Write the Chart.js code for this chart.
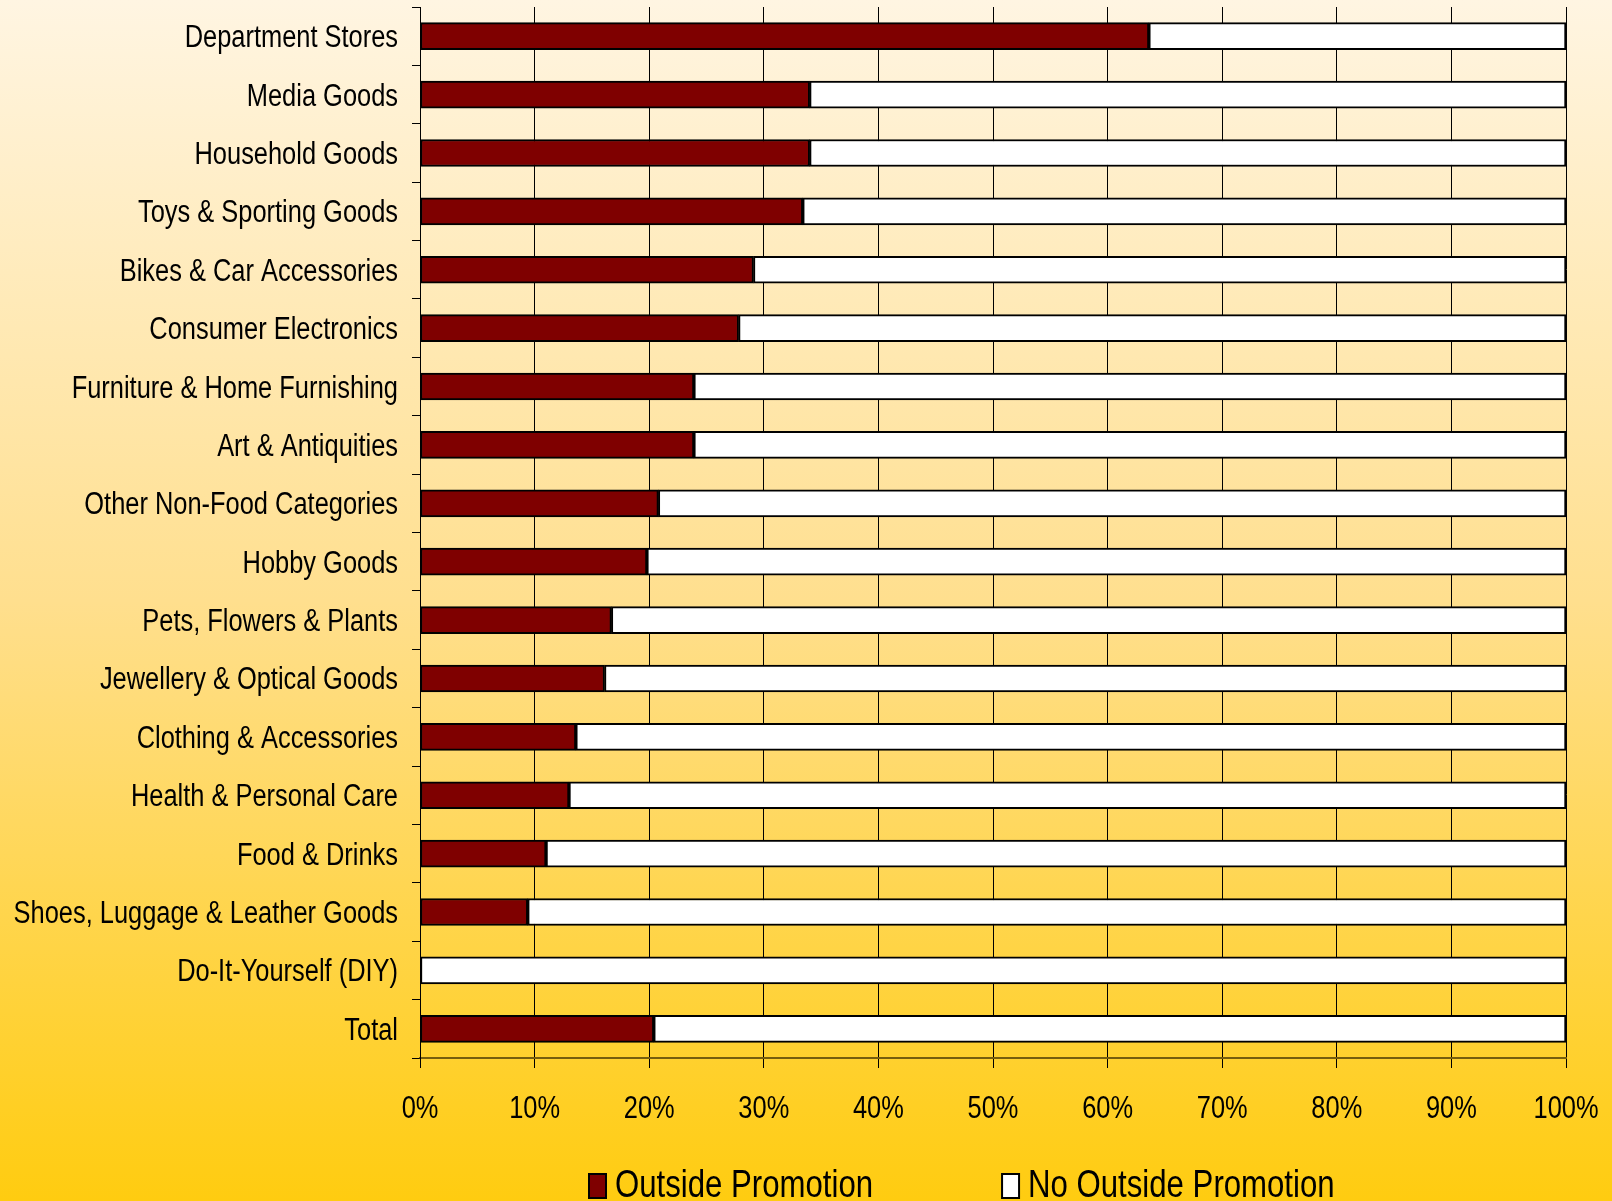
<!DOCTYPE html>
<html>
<head>
<meta charset="utf-8">
<script src="https://cdn.jsdelivr.net/npm/chart.js@4"></script>
<style>
	html, body { margin: 0; padding: 0; }
	body {
		width: 1612px;
		height: 1201px;
		overflow: hidden;
		background: linear-gradient(to bottom, #FFF5E2 0%, #FFDF8E 50%, #FFCC10 100%);
	}
	#wrap { width: 1612px; height: 1201px; }
</style>
</head>
<body>
<div id="wrap"><canvas id="chart"></canvas></div>
<script>
// categories (top to bottom)
const categories = [
	'Department Stores',
	'Media Goods',
	'Household Goods',
	'Toys & Sporting Goods',
	'Bikes & Car Accessories',
	'Consumer Electronics',
	'Furniture & Home Furnishing',
	'Art & Antiquities',
	'Other Non-Food Categories',
	'Hobby Goods',
	'Pets, Flowers & Plants',
	'Jewellery & Optical Goods',
	'Clothing & Accessories',
	'Health & Personal Care',
	'Food & Drinks',
	'Shoes, Luggage & Leather Goods',
	'Do-It-Yourself (DIY)',
	'Total'
]

// share of retailers (%)
const outside_promotion = [63.6, 34.0, 34.0, 33.4, 29.1, 27.8, 23.9, 23.9, 20.8, 19.8, 16.7, 16.1, 13.6, 13.0, 11.0, 9.4, 0, 20.4]
const no_outside_promotion = [36.4, 66.0, 66.0, 66.6, 70.9, 72.2, 76.1, 76.1, 79.2, 80.2, 83.3, 83.9, 86.4, 87.0, 89.0, 90.6, 100, 79.6]

const x_ticks = [0, 10, 20, 30, 40, 50, 60, 70, 80, 90, 100]

// no Arial Narrow here: Liberation Sans squeezed to 82% gives the same look
const font_family = '"Liberation Sans", Arial, sans-serif'
const narrow = 0.82

function narrow_text(ctx, text, x, y, size, align) {
	ctx.save()
	ctx.font = size + 'px ' + font_family
	ctx.textAlign = align
	ctx.textBaseline = 'alphabetic'
	ctx.fillStyle = '#000'
	ctx.translate(x, y)
	ctx.scale(narrow, 1)
	ctx.fillText(text, 0, 0)
	const w = ctx.measureText(text).width * narrow
	ctx.restore()
	return w
}

// tick labels and legend, drawn narrow
const narrow_labels = {
	id: 'narrow_labels',
	afterDraw(chart) {
		const ctx = chart.ctx
		const xs = chart.scales.x
		const ys = chart.scales.y

		// category labels
		ys.ticks.forEach((t, i) => {
			const y = ys.getPixelForTick(i)
			narrow_text(ctx, chart.data.labels[i], ys.right - 22, y + 11, 31, 'right')
		})

		// percent labels
		x_ticks.forEach((v) => {
			narrow_text(ctx, v + '%', xs.getPixelForValue(v), xs.top + 60, 31, 'center')
		})

		// legend
		let x = 589
		chart.data.datasets.forEach((ds) => {
			ctx.save()
			ctx.fillStyle = ds.backgroundColor
			ctx.fillRect(x, 1174, 17, 24)
			ctx.lineWidth = 2
			ctx.strokeStyle = '#000'
			ctx.strokeRect(x, 1174, 17, 24)
			ctx.restore()
			const w = narrow_text(ctx, ds.label, x + 26, 1197, 38, 'left')
			x += 26 + w + 129
		})
	}
}

new Chart(document.getElementById('chart'), {
	type: 'bar',
	data: {
		labels: categories,
		datasets: [
			{
				label: 'Outside Promotion',
				data: outside_promotion,
				backgroundColor: '#7F0000',
				borderColor: '#000',
				borderWidth: 2,
				borderSkipped: false,
				barThickness: 27
			},
			{
				label: 'No Outside Promotion',
				data: no_outside_promotion,
				backgroundColor: '#FFFFFF',
				borderColor: '#000',
				borderWidth: 2,
				borderSkipped: false,
				barThickness: 27
			}
		]
	},
	plugins: [narrow_labels],
	options: {
		indexAxis: 'y',
		responsive: true,
		maintainAspectRatio: false,
		animation: false,
		layout: {
			padding: { top: 7, right: 46, left: 0, bottom: 0 }
		},
		plugins: {
			legend: { display: false },
			tooltip: { enabled: false }
		},
		scales: {
			x: {
				stacked: true,
				min: 0,
				max: 100,
				afterBuildTicks: (scale) => {
					scale.ticks = x_ticks.map((v) => ({ value: v }))
				},
				afterFit: (scale) => {
					scale.height = 1201 - 7 - 1051
				},
				ticks: {
					display: false
				},
				grid: {
					color: '#000',
					lineWidth: 1,
					tickLength: 10,
					drawTicks: true
				},
				border: {
					display: true,
					color: 'rgba(60, 45, 0, 0.7)',
					width: 2
				}
			},
			y: {
				stacked: true,
				afterFit: (scale) => {
					scale.width = 420
				},
				ticks: {
					display: false
				},
				grid: {
					drawOnChartArea: false,
					drawTicks: true,
					tickLength: 8,
					color: '#000',
					offset: true
				},
				border: {
					display: true,
					color: '#000',
					width: 1
				}
			}
		}
	}
})
</script>
</body>
</html>
